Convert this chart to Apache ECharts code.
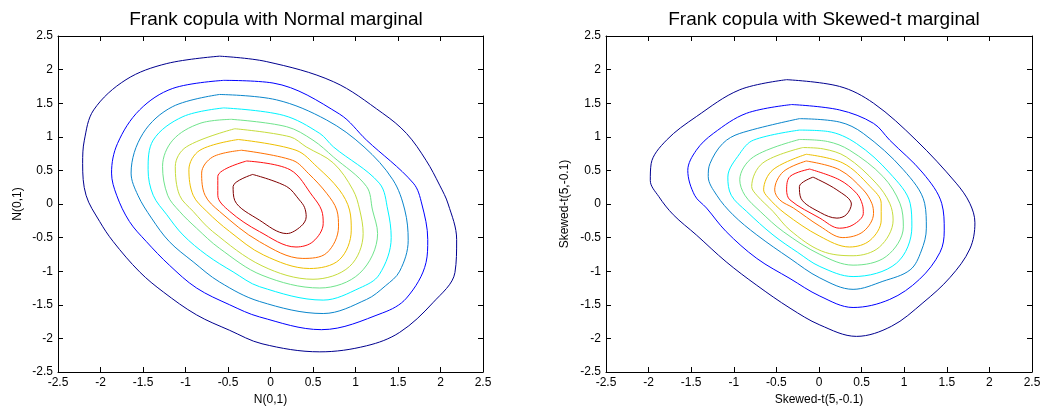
<!DOCTYPE html>
<html>
<head>
<meta charset="utf-8">
<script src="https://cdn.jsdelivr.net/npm/echarts@6/dist/echarts.min.js"></script>
<style>
html,body{margin:0;padding:0;background:#fff;}
#chart{width:1047px;height:412px;}
</style>
</head>
<body>
<div id="chart"></div>
<script>
// ---- Titles / axis names ----
var titles = ['Frank copula with Normal marginal', 'Frank copula with Skewed-t marginal'];
var axisNames = ['N(0,1)', 'Skewed-t(5,-0.1)'];
var axisMin = -2.5, axisMax = 2.5, axisStep = 0.5;

// ---- Contour levels, Normal marginal (outer -> inner), [x, y] ----
var normalLevel1 = [[-0.60,2.20],[-1.22,2.09],[-1.70,1.85],[-2.08,1.40],[-2.19,0.95],[-2.21,0.60],[-2.17,0.13],[-2.01,-0.26],[-1.85,-0.56],[-1.54,-1.01],[-1.26,-1.31],[-0.87,-1.65],[-0.48,-1.88],[-0.10,-2.08],[0.58,-2.20],[1.13,-2.11],[1.52,-1.91],[1.91,-1.47],[2.17,-1.02],[2.19,-0.53],[2.09,0.00],[1.99,0.28],[1.83,0.65],[1.60,1.05],[1.32,1.35],[0.74,1.82],[-0.05,2.12],[-0.60,2.20]];
var normalLevel2 = [[-0.55,1.84],[-1.15,1.72],[-1.54,1.40],[-1.80,0.90],[-1.87,0.46],[-1.81,0.13],[-1.66,-0.26],[-1.46,-0.56],[-1.19,-0.91],[-0.87,-1.25],[-0.48,-1.50],[-0.13,-1.68],[0.60,-1.87],[1.32,-1.62],[1.60,-1.40],[1.83,-0.87],[1.85,-0.53],[1.78,0.00],[1.68,0.31],[1.13,0.95],[0.81,1.34],[0.03,1.80],[-0.55,1.84]];
var normalLevel3 = [[-0.60,1.63],[-1.15,1.45],[-1.50,1.05],[-1.64,0.46],[-1.56,0.13],[-1.40,-0.21],[-1.19,-0.56],[-0.91,-0.86],[-0.60,-1.16],[-0.13,-1.45],[0.62,-1.63],[1.13,-1.42],[1.35,-1.22],[1.52,-1.00],[1.62,-0.54],[1.58,-0.09],[1.44,0.36],[1.10,0.85],[0.66,1.25],[0.07,1.55],[-0.60,1.63]];
var normalLevel4 = [[-0.55,1.43],[-1.03,1.30],[-1.38,0.95],[-1.44,0.51],[-1.38,0.13],[-1.22,-0.16],[-1.03,-0.46],[-0.75,-0.76],[-0.44,-1.01],[-0.13,-1.23],[0.62,-1.43],[1.05,-1.25],[1.28,-1.05],[1.42,-0.50],[1.38,-0.09],[1.28,0.31],[0.74,0.85],[0.58,1.05],[0.15,1.32],[-0.55,1.43]];
var normalLevel5 = [[-0.46,1.26],[-0.83,1.20],[-1.15,0.95],[-1.27,0.56],[-1.21,0.13],[-1.07,-0.11],[-0.87,-0.36],[-0.60,-0.66],[-0.10,-1.06],[0.58,-1.25],[1.05,-1.03],[1.26,-0.44],[1.20,-0.09],[1.13,0.26],[0.74,0.70],[0.50,0.95],[0.19,1.15],[-0.46,1.26]];
var normalLevel6 = [[-0.42,1.12],[-0.99,0.85],[-1.12,0.56],[-1.07,0.13],[-0.91,-0.11],[-0.68,-0.41],[-0.10,-0.92],[0.50,-1.12],[0.93,-0.93],[1.09,-0.44],[1.05,-0.09],[0.97,0.21],[0.74,0.61],[0.42,0.85],[0.23,1.00],[-0.42,1.12]];
var normalLevel7 = [[-0.38,0.96],[-0.83,0.80],[-0.96,0.51],[-0.91,0.13],[-0.75,-0.11],[-0.48,-0.41],[-0.08,-0.76],[0.46,-0.96],[0.81,-0.83],[0.95,-0.39],[0.93,-0.09],[0.81,0.21],[0.55,0.55],[0.30,0.80],[-0.38,0.96]];
var normalLevel8 = [[-0.34,0.80],[-0.68,0.70],[-0.81,0.46],[-0.77,0.13],[-0.60,-0.11],[-0.13,-0.56],[0.38,-0.81],[0.66,-0.73],[0.80,-0.34],[0.78,-0.09],[0.66,0.16],[0.45,0.45],[0.26,0.65],[-0.34,0.80]];
var normalLevel9 = [[-0.28,0.64],[-0.62,0.41],[-0.62,0.13],[-0.48,-0.11],[-0.13,-0.41],[0.30,-0.64],[0.50,-0.56],[0.62,-0.29],[0.60,-0.09],[0.50,0.11],[0.23,0.51],[-0.28,0.64]];
var normalLevel10 = [[-0.21,0.44],[-0.44,0.26],[-0.42,0.05],[-0.13,-0.24],[0.19,-0.44],[0.36,-0.33],[0.42,-0.19],[0.40,-0.05],[0.34,0.06],[0.19,0.26],[-0.21,0.44]];

// ---- Contour levels, Skewed-t marginal (outer -> inner), [x, y] ----
var skewLevel1 = [[-0.38,1.85],[-0.93,1.70],[-1.44,1.30],[-1.79,0.95],[-1.97,0.60],[-1.98,0.35],[-1.88,0.11],[-1.71,-0.16],[-1.44,-0.46],[-1.09,-0.86],[-0.73,-1.21],[-0.34,-1.55],[0.01,-1.80],[0.44,-1.97],[0.85,-1.82],[1.22,-1.47],[1.54,-1.09],[1.77,-0.67],[1.83,-0.28],[1.77,0.01],[1.61,0.31],[1.14,0.95],[0.64,1.50],[0.24,1.75],[-0.38,1.85]];
var skewLevel2 = [[-0.32,1.48],[-0.85,1.35],[-1.24,1.05],[-1.44,0.80],[-1.54,0.50],[-1.46,0.13],[-1.32,-0.06],[-1.09,-0.41],[-0.73,-0.81],[-0.34,-1.11],[0.01,-1.37],[0.40,-1.54],[0.83,-1.42],[1.18,-1.12],[1.42,-0.72],[1.47,-0.40],[1.44,0.01],[1.22,0.46],[0.83,0.95],[0.64,1.20],[0.24,1.40],[-0.32,1.48]];
var skewLevel3 = [[-0.23,1.27],[-0.93,1.05],[-1.13,0.90],[-1.28,0.60],[-1.30,0.41],[-1.20,0.13],[-1.01,-0.16],[-0.73,-0.46],[-0.34,-0.81],[0.01,-1.10],[0.40,-1.27],[0.75,-1.15],[1.07,-0.98],[1.20,-0.70],[1.26,-0.36],[1.24,0.01],[0.99,0.51],[0.52,1.05],[0.24,1.22],[-0.23,1.27]];
var skewLevel4 = [[-0.23,1.10],[-0.77,0.95],[-0.93,0.75],[-1.07,0.40],[-1.03,0.13],[-0.85,-0.11],[-0.54,-0.46],[-0.25,-0.72],[0.01,-0.93],[0.40,-1.08],[0.91,-0.88],[1.09,-0.34],[1.07,0.01],[0.83,0.46],[0.44,0.90],[0.10,1.08],[-0.23,1.10]];
var skewLevel5 = [[-0.23,0.96],[-0.77,0.70],[-0.93,0.36],[-0.87,0.13],[-0.69,-0.11],[-0.42,-0.41],[0.01,-0.75],[0.40,-0.91],[0.79,-0.78],[0.99,-0.34],[0.95,0.01],[0.75,0.41],[0.36,0.80],[0.10,0.93],[-0.23,0.96]];
var skewLevel6 = [[-0.19,0.84],[-0.66,0.61],[-0.79,0.26],[-0.73,0.13],[-0.54,-0.11],[-0.34,-0.39],[0.03,-0.70],[0.40,-0.77],[0.71,-0.64],[0.87,-0.24],[0.83,0.01],[0.67,0.31],[0.32,0.70],[0.05,0.82],[-0.19,0.84]];
var skewLevel7 = [[-0.15,0.74],[-0.54,0.51],[-0.65,0.21],[-0.60,0.10],[-0.40,-0.14],[0.01,-0.48],[0.36,-0.64],[0.60,-0.54],[0.73,-0.24],[0.73,0.01],[0.60,0.26],[0.28,0.61],[-0.15,0.74]];
var skewLevel8 = [[-0.15,0.64],[-0.42,0.48],[-0.52,0.21],[-0.46,0.06],[-0.30,-0.06],[0.01,-0.33],[0.28,-0.50],[0.52,-0.41],[0.64,-0.14],[0.62,0.01],[0.52,0.21],[0.24,0.51],[-0.15,0.64]];
var skewLevel9 = [[-0.11,0.52],[-0.34,0.41],[-0.38,0.21],[-0.34,0.06],[0.01,-0.21],[0.24,-0.36],[0.40,-0.31],[0.52,-0.14],[0.51,-0.01],[0.44,0.16],[0.24,0.36],[-0.11,0.52]];
var skewLevel10 = [[-0.07,0.40],[-0.23,0.26],[-0.21,0.08],[0.02,-0.13],[0.21,-0.21],[0.32,-0.16],[0.38,0.00],[0.21,0.21],[-0.07,0.40]];

var normalLevels = [normalLevel1,normalLevel2,normalLevel3,normalLevel4,normalLevel5,normalLevel6,normalLevel7,normalLevel8,normalLevel9,normalLevel10];
var skewLevels = [skewLevel1,skewLevel2,skewLevel3,skewLevel4,skewLevel5,skewLevel6,skewLevel7,skewLevel8,skewLevel9,skewLevel10];

// jet-like contour colours, outer -> inner
var levelColors = ['#00008f','#0000ff','#0a86cc','#00f4ff','#6fe48c','#c6dc3c','#eec000','#ff7000','#ff1010','#800000'];

var FONT = '"Liberation Sans", Arial, sans-serif';
var chart = echarts.init(document.getElementById('chart'), null, {renderer:'canvas'});

function xAx(grid, pos, name) {
  return {
    type:'value', gridIndex:grid, position:pos, min:axisMin, max:axisMax, interval:axisStep,
    axisLine:{show:true, onZero:false, lineStyle:{color:'#000', width:1}},
    axisTick:{show:true, inside:true, length:5, lineStyle:{color:'#000'}},
    axisLabel:{show: pos==='bottom', color:'#000', fontSize:12, fontFamily:FONT, margin:5},
    splitLine:{show:false},
    name: pos==='bottom' ? name : '', nameLocation:'middle', nameGap:21,
    nameTextStyle:{color:'#000', fontSize:12, fontFamily:FONT}
  };
}
function yAx(grid, pos, name, gap) {
  return {
    type:'value', gridIndex:grid, position:pos, min:axisMin, max:axisMax, interval:axisStep,
    axisLine:{show:true, onZero:false, lineStyle:{color:'#000', width:1}},
    axisTick:{show:true, inside:true, length:5, lineStyle:{color:'#000'}},
    axisLabel:{show: pos==='left', color:'#000', fontSize:12, fontFamily:FONT, margin:5},
    splitLine:{show:false},
    name: pos==='left' ? name : '', nameLocation:'middle', nameGap:gap,
    nameTextStyle:{color:'#000', fontSize:12, fontFamily:FONT}
  };
}

var series = [];
function addSeries(levels, xi, yi) {
  levels.forEach(function(lv, i) {
    series.push({
      type:'line', xAxisIndex:xi, yAxisIndex:yi, data:lv,
      showSymbol:false, symbol:'none', smooth:0.35, silent:true,
      lineStyle:{color:levelColors[i], width:1}
    });
  });
}
addSeries(normalLevels, 0, 0);
addSeries(skewLevels, 2, 2);

chart.setOption({
  animation:false,
  backgroundColor:'#fff',
  title:[
    {text:titles[0], left:271, top:5, textAlign:'center', textStyle:{color:'#000', fontSize:19, fontWeight:'normal', fontFamily:FONT}},
    {text:titles[1], left:819, top:5, textAlign:'center', textStyle:{color:'#000', fontSize:19, fontWeight:'normal', fontFamily:FONT}}
  ],
  grid:[
    {left:58, top:36, width:425, height:336},
    {left:606, top:36, width:426, height:336}
  ],
  xAxis:[xAx(0,'bottom',axisNames[0]), xAx(0,'top',''), xAx(1,'bottom',axisNames[1]), xAx(1,'top','')],
  yAxis:[yAx(0,'left',axisNames[0],34), yAx(0,'right','',0), yAx(1,'left',axisNames[1],35), yAx(1,'right','',0)],
  series:series
});
</script>
</body>
</html>
